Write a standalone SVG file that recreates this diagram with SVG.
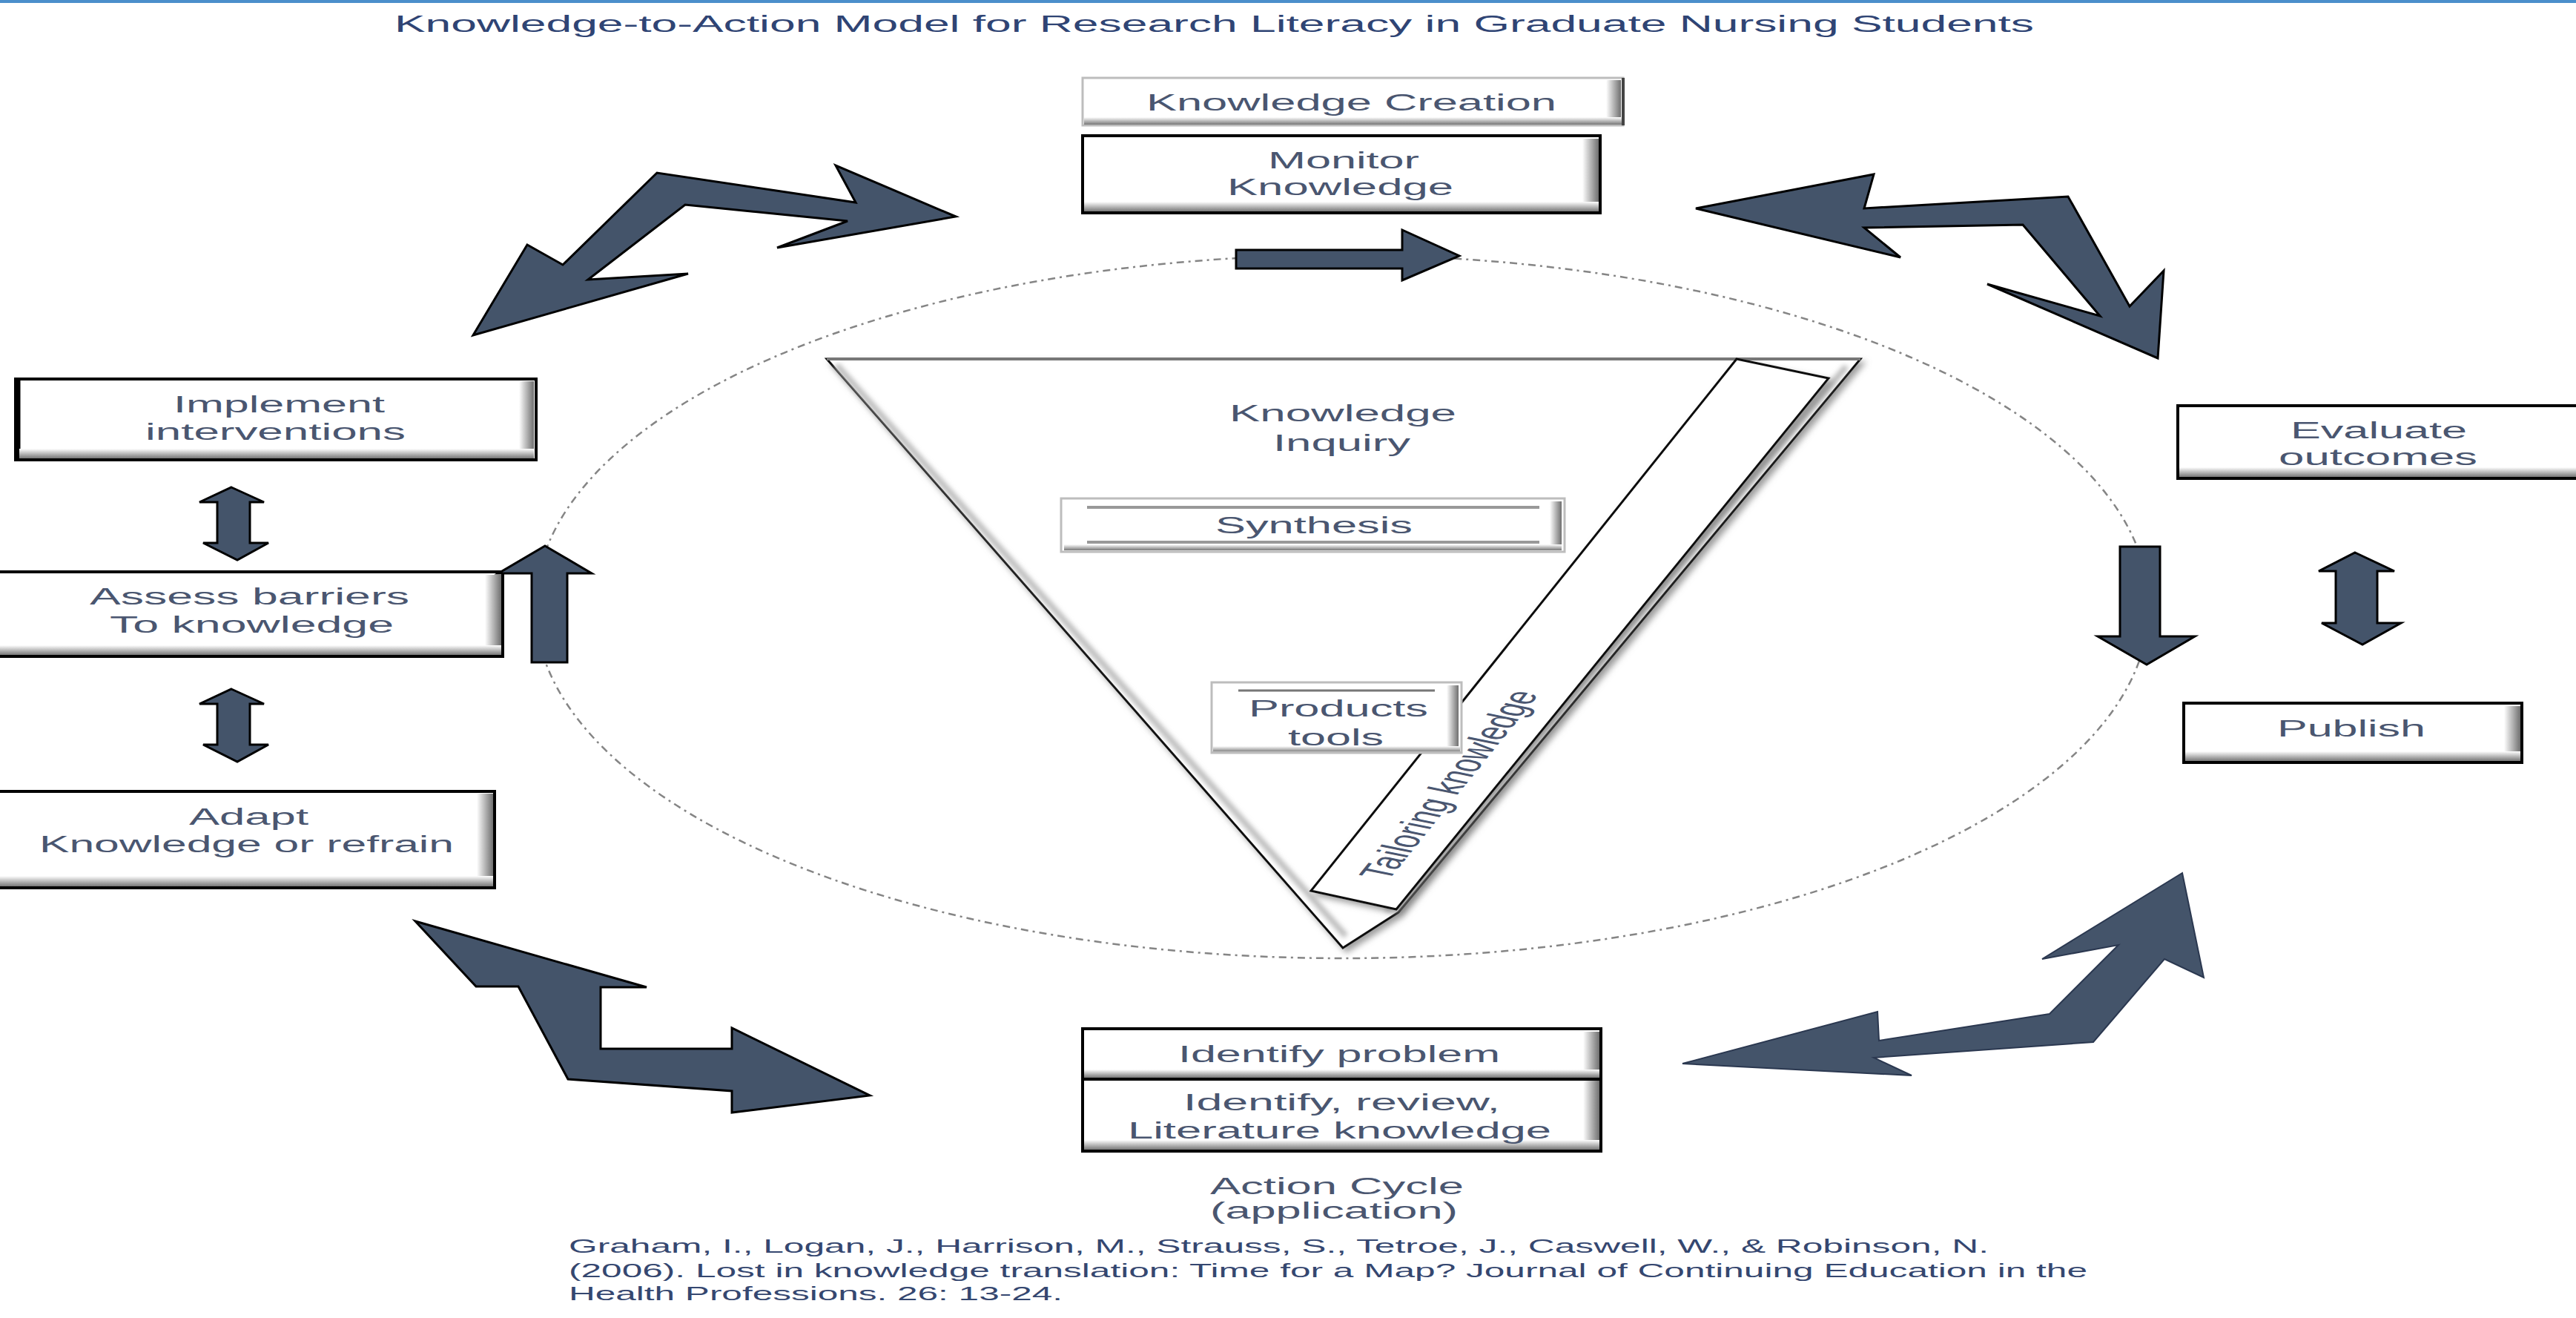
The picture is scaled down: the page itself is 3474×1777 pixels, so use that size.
<svg xmlns="http://www.w3.org/2000/svg" width="3474" height="1777" viewBox="0 0 3474 1777">
<style>
text{font-family:"Liberation Sans",Arial,sans-serif;fill:#4a5670}
.t{font-size:31px}
.ttl{font-size:31px;fill:#2f4474}
.cit{font-size:26px;fill:#354770}
.arr{fill:#44546A;stroke:#000;stroke-width:3;stroke-linejoin:miter}
.arr2{fill:#44546A;stroke:#2b3850;stroke-width:2}
.bx{fill:#fff;stroke:#000;stroke-width:4}
.bxg{fill:#fff;stroke:#bdbdbd;stroke-width:3}
</style>
<defs>
<linearGradient id="gR" x1="0" y1="0" x2="1" y2="0"><stop offset="0" stop-color="#fff"/><stop offset="1" stop-color="#6f6f6f"/></linearGradient>
<linearGradient id="gB" x1="0" y1="0" x2="0" y2="1"><stop offset="0" stop-color="#fff"/><stop offset="1" stop-color="#777"/></linearGradient>
<filter id="sh" x="-10%" y="-10%" width="130%" height="130%"><feDropShadow dx="5" dy="5" stdDeviation="4" flood-color="#777" flood-opacity="0.7"/></filter>
<filter id="bl"><feGaussianBlur stdDeviation="3"/></filter>
</defs>
<rect x="0" y="0" width="3474" height="1777" fill="#fff"/>
<rect x="0" y="0" width="3474" height="4" fill="#4B8FCB"/>
<text class="ttl" x="532" y="43" textLength="2211" lengthAdjust="spacingAndGlyphs">Knowledge-to-Action Model for Research Literacy in Graduate Nursing Students</text>

<ellipse id="cycle" cx="1810" cy="818" rx="1088" ry="474" fill="none" stroke="#858585" stroke-width="2.5" stroke-dasharray="10 6 3 6"/>

<g id="knowledge-funnel">
<polygon points="1115,484 2509,484 1886,1230 1811,1278" fill="#fff" stroke="#111" stroke-width="3" filter="url(#sh)"/>
<line x1="1115" y1="484" x2="2509" y2="484" stroke="#777" stroke-width="4"/>
<polyline points="1128,492 1815,1262" fill="none" stroke="#bbb" stroke-width="8" filter="url(#bl)"/>
<polyline points="2490,494 1870,1228" fill="none" stroke="#bbb" stroke-width="8" filter="url(#bl)"/>
<text class="t" x="1658" y="568" font-size="32" textLength="306" lengthAdjust="spacingAndGlyphs">Knowledge</text>
<text class="t" x="1717" y="608" font-size="32" textLength="185" lengthAdjust="spacingAndGlyphs">Inquiry</text>
</g>

<g id="tailoring">
<polygon points="2342,484 2466,510 1883,1226 1768,1201" fill="#fff" stroke="#111" stroke-width="3" filter="url(#sh)"/>
<text class="t" transform="translate(1953,1058) scale(2,1) rotate(-68)" text-anchor="middle" dy="11" font-size="33">Tailoring knowledge</text>
</g>

<g id="synthesis">
<rect class="bxg" x="1431" y="672" width="679" height="72"/>
<rect x="2090" y="676" width="16" height="64" fill="url(#gR)"/>
<rect x="1435" y="734" width="671" height="8" fill="url(#gB)"/>
<line x1="1466" y1="684" x2="2076" y2="684" stroke="#999" stroke-width="4"/>
<line x1="1466" y1="731" x2="2076" y2="731" stroke="#999" stroke-width="4"/>
<text class="t" x="1639" y="719" font-size="32" textLength="266" lengthAdjust="spacingAndGlyphs">Synthesis</text>
</g>

<g id="products">
<rect class="bxg" x="1634" y="920" width="337" height="95"/>
<rect x="1951" y="924" width="16" height="87" fill="url(#gR)"/>
<line x1="1670" y1="931" x2="1935" y2="931" stroke="#777" stroke-width="3"/>
<text class="t" x="1684" y="966" textLength="242" lengthAdjust="spacingAndGlyphs">Products</text>
<text class="t" x="1737" y="1005" textLength="129" lengthAdjust="spacingAndGlyphs">tools</text>
<rect x="1636" y="1006" width="333" height="8" fill="url(#gB)"/>
<rect x="1634" y="1013" width="337" height="3" fill="#bdbdbd"/>
</g>

<g id="knowledge-creation">
<rect class="bxg" x="1460" y="105" width="729" height="64" stroke="#d6d6d6"/>
<rect x="2166" y="108" width="20" height="58" fill="url(#gR)"/>
<rect x="1462" y="158" width="726" height="10" fill="url(#gB)"/>
<line x1="2189" y1="105" x2="2189" y2="169" stroke="#444" stroke-width="4"/>
<text class="t" x="1546" y="149" textLength="553" lengthAdjust="spacingAndGlyphs">Knowledge Creation</text>
</g>

<g id="monitor">
<rect class="bx" x="1460" y="183" width="698" height="104"/>
<rect x="2134" y="187" width="22" height="96" fill="url(#gR)"/>
<rect x="1462" y="272" width="694" height="13" fill="url(#gB)"/>
<text class="t" x="1710" y="227" font-size="30" textLength="204" lengthAdjust="spacingAndGlyphs">Monitor</text>
<text class="t" x="1655" y="263" font-size="30" textLength="305" lengthAdjust="spacingAndGlyphs">Knowledge</text>
</g>

<g id="implement">
<rect class="bx" x="21" y="511" width="702" height="109" stroke-width="3"/>
<line x1="24" y1="511" x2="24" y2="620" stroke="#000" stroke-width="7"/>
<rect x="700" y="514" width="20" height="103" fill="url(#gR)"/>
<rect x="26" y="605" width="694" height="13" fill="url(#gB)"/>
<text class="t" x="234" y="556" font-size="32" textLength="285" lengthAdjust="spacingAndGlyphs">Implement</text>
<text class="t" x="196" y="593" font-size="32" textLength="351" lengthAdjust="spacingAndGlyphs">interventions</text>
</g>

<g id="assess">
<rect class="bx" x="-2" y="771" width="680" height="114"/>
<rect x="654" y="775" width="22" height="106" fill="url(#gR)"/>
<rect x="0" y="870" width="676" height="13" fill="url(#gB)"/>
<text class="t" x="121" y="815" textLength="431" lengthAdjust="spacingAndGlyphs">Assess  barriers</text>
<text class="t" x="148" y="853" textLength="383" lengthAdjust="spacingAndGlyphs">To knowledge</text>
</g>

<g id="adapt">
<rect class="bx" x="-2" y="1067" width="669" height="130" stroke-width="3"/>
<rect x="643" y="1070" width="22" height="124" fill="url(#gR)"/>
<rect x="0" y="1181" width="665" height="14" fill="url(#gB)"/>
<text class="t" x="255" y="1112" textLength="161" lengthAdjust="spacingAndGlyphs">Adapt</text>
<text class="t" x="53" y="1149" textLength="559" lengthAdjust="spacingAndGlyphs">Knowledge or refrain</text>
</g>

<g id="evaluate">
<rect class="bx" x="2937" y="547" width="540" height="98"/>
<rect x="2939" y="630" width="535" height="13" fill="url(#gB)"/>
<text class="t" x="3089" y="591" font-size="32" textLength="238" lengthAdjust="spacingAndGlyphs">Evaluate</text>
<text class="t" x="3073" y="627" font-size="32" textLength="268" lengthAdjust="spacingAndGlyphs">outcomes</text>
</g>

<g id="publish">
<rect class="bx" x="2945" y="948" width="456" height="80"/>
<rect x="3377" y="952" width="22" height="72" fill="url(#gR)"/>
<rect x="2947" y="1013" width="452" height="13" fill="url(#gB)"/>
<text class="t" x="3071" y="993" font-size="33" textLength="200" lengthAdjust="spacingAndGlyphs">Publish</text>
</g>

<g id="identify">
<rect class="bx" x="1460" y="1387" width="699" height="165"/>
<rect x="2135" y="1391" width="22" height="157" fill="url(#gR)"/>
<rect x="1462" y="1442" width="695" height="11" fill="url(#gB)"/>
<rect x="1462" y="1537" width="695" height="13" fill="url(#gB)"/>
<line x1="1460" y1="1455" x2="2159" y2="1455" stroke="#000" stroke-width="4"/>
<text class="t" x="1589" y="1432" textLength="434" lengthAdjust="spacingAndGlyphs">Identify problem</text>
<text class="t" x="1596" y="1497" textLength="427" lengthAdjust="spacingAndGlyphs">Identify, review,</text>
<text class="t" x="1521" y="1535" textLength="571" lengthAdjust="spacingAndGlyphs">Literature knowledge</text>
</g>

<g id="action-cycle-label">
<text class="t" x="1632" y="1610" font-size="33" textLength="342" lengthAdjust="spacingAndGlyphs">Action Cycle</text>
<text class="t" x="1632" y="1643" font-size="33" textLength="334" lengthAdjust="spacingAndGlyphs">(application)</text>
</g>

<g id="citation">
<text class="cit" x="767" y="1689" textLength="1915" lengthAdjust="spacingAndGlyphs">Graham, I., Logan, J., Harrison, M., Strauss, S., Tetroe, J., Caswell, W., &amp; Robinson, N.</text>
<text class="cit" x="767" y="1722" textLength="2048" lengthAdjust="spacingAndGlyphs">(2006). Lost in knowledge translation: Time for a Map? Journal of Continuing Education in the</text>
<text class="cit" x="767" y="1753" textLength="666" lengthAdjust="spacingAndGlyphs">Health Professions. 26: 13-24.</text>
</g>

<g id="connectors">
<polygon class="arr" points="1667,337 1891,337 1891,310 1968,345 1891,378 1891,362 1667,362"/>
<polygon class="arr" points="735,736 798,773 765,773 765,893 717,893 717,773 672,773"/>
<polygon class="arr" points="312,657 356,677 337,677 337,732 362,732 320,755 274,732 293,732 293,677 269,677"/>
<polygon class="arr" points="312,929 356,949 337,949 337,1004 362,1004 320,1027 274,1004 293,1004 293,949 269,949"/>
<polygon class="arr" points="2859,737 2913,737 2913,858 2960,858 2895,896 2829,858 2859,858"/>
<polygon class="arr" points="3176,745 3229,770 3206,770 3206,840 3238,840 3186,869 3131,840 3150,840 3150,770 3127,770"/>
<polygon class="arr" points="1289,292 1127,223 1154,273 886,233 759,357 711,330 638,452 928,369 793,377 924,276 1143,298 1048,334"/>
<polygon class="arr" points="2287,281 2527,235 2514,281 2789,265 2872,413 2918,365 2910,483 2680,383 2832,426 2728,303 2514,307 2563,347"/>
<polygon class="arr" points="560,1242 872,1331 810,1331 810,1414 987,1414 987,1386 1173,1477 987,1500 987,1471 766,1455 699,1330 642,1330"/>
<polygon class="arr2" points="2943,1177 2972,1318 2919,1293 2823,1405 2527,1426 2578,1450 2269,1434 2532,1364 2534,1403 2764,1367 2857,1274 2754,1293"/>
</g>
</svg>
